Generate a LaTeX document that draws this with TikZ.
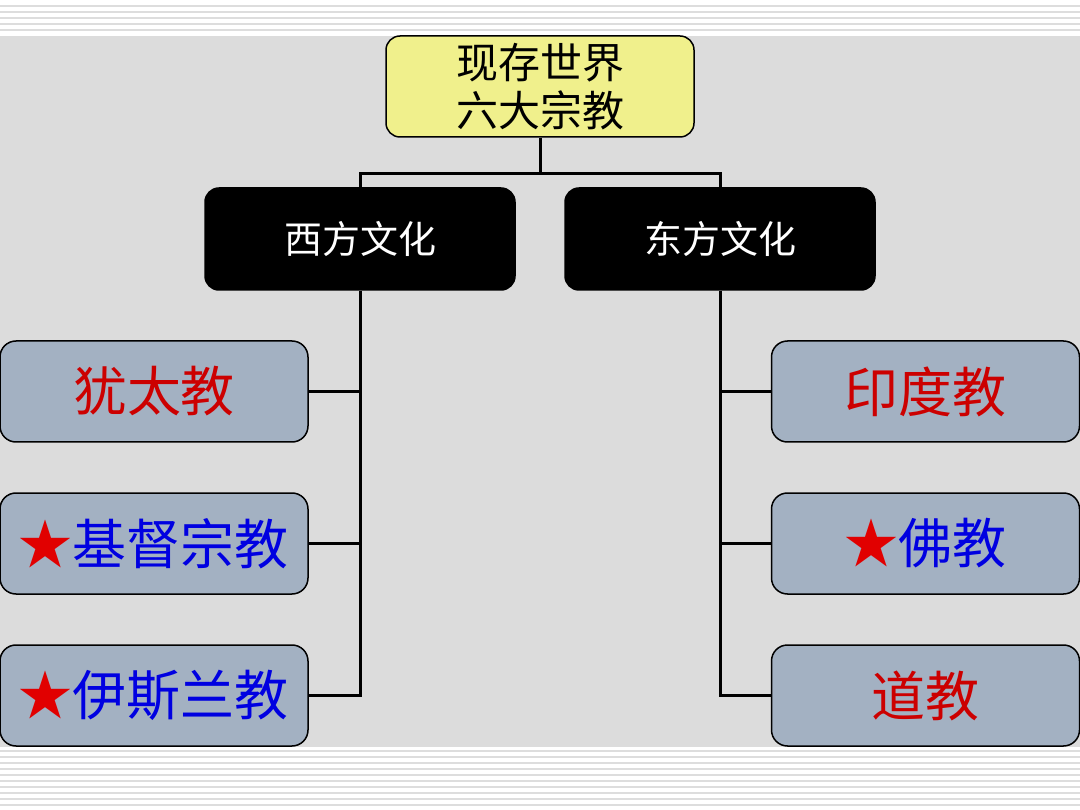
\documentclass[tikz,border=0pt]{standalone}
\usepackage{fontspec}
\newfontfamily\cjk{Noto Sans CJK SC}
\definecolor{bgband}{RGB}{220,220,220}
\definecolor{stripe}{RGB}{221,221,221}
\definecolor{topfill}{RGB}{240,240,140}
\definecolor{leaffill}{RGB}{163,177,194}
\definecolor{redtext}{RGB}{204,0,0}
\definecolor{bluetext}{RGB}{0,0,225}
\definecolor{starred}{RGB}{225,0,0}
\tikzset{
  rootbox/.style={draw=black, line width=1.5pt, fill=topfill, rounded corners=14pt,
    minimum width=308pt, minimum height=101pt, inner sep=0pt, align=center,
    font=\cjk\fontsize{42}{48}\selectfont},
  midbox/.style={draw=black, line width=1.5pt, fill=black, text=white, rounded corners=14pt,
    minimum width=310pt, minimum height=102pt, inner sep=0pt,
    font=\cjk\fontsize{38}{42}\selectfont},
  leafbox/.style={draw=black, line width=1.5pt, fill=leaffill, rounded corners=16pt,
    minimum width=308pt, minimum height=101pt, inner sep=0pt,
    font=\cjk\fontsize{54}{60}\selectfont},
  link/.style={draw=black, line width=3pt},
  stripeline/.style={draw=stripe}
}
\newcommand{\rstar}{\textcolor{starred}{★}}
\begin{document}
\begin{tikzpicture}[x=1pt,y=-1pt]
\useasboundingbox (0,0) rectangle (1080,810);
\fill[white] (0,0) rectangle (1080,810);
% top stripes
\foreach \yy/\ww in {6/1.2,12/1.4,18/1.6,24/2,30/2.3}{
  \draw[stripeline, line width=\ww pt] (0,\yy) -- (1080,\yy);
}
% bottom stripes
\foreach \yy in {751,757,763,769,775,781,787,793,799,805}{
  \draw[stripeline, line width=2pt] (0,\yy) -- (1080,\yy);
}
% gray band
\fill[bgband] (0,36) rectangle (1080,747);

% nodes
\node[rootbox] (root) at (540,86.5) {现存世界\\六大宗教};
\node[midbox] (west) at (360,239) {西方文化};
\node[midbox] (east) at (720,239) {东方文化};

\node[leafbox, text=redtext] (l1) at (154,391.5) {犹太教};
\node[leafbox, text=bluetext] (l2) at (154,543.5) {\rstar 基督宗教};
\node[leafbox, text=bluetext] (l3) at (154,695.5) {\rstar 伊斯兰教};

\node[leafbox, text=redtext] (r1) at (925.5,391.5) {印度教};
\node[leafbox, text=bluetext] (r2) at (925.5,543.5) {\rstar 佛教};
\node[leafbox, text=redtext] (r3) at (925.5,695.5) {道教};

% connectors
\coordinate (bar) at (540,174);
\draw[link] (root.south) -- (bar);
\draw[link] (west.north) |- (bar) -| (east.north);

\draw[link] (west.south) |- (l3.east);
\draw[link] (l1.east) -- (l1.east -| west.south);
\draw[link] (l2.east) -- (l2.east -| west.south);

\draw[link] (east.south) |- (r3.west);
\draw[link] (r1.west) -- (r1.west -| east.south);
\draw[link] (r2.west) -- (r2.west -| east.south);
\end{tikzpicture}
\end{document}
